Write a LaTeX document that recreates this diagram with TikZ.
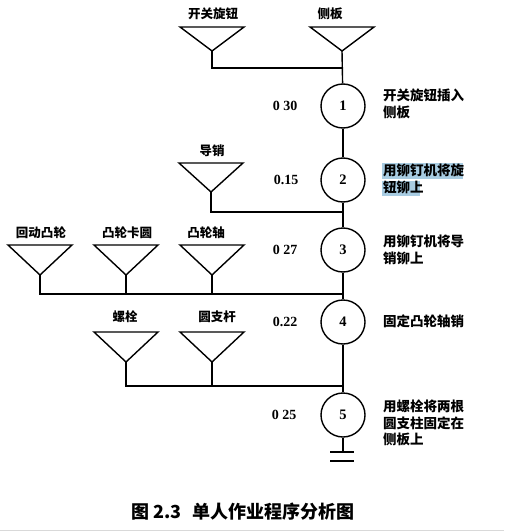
\documentclass[tikz,border=0pt]{standalone}
\usepackage{fontspec}
\setmainfont{Liberation Serif}
\newfontfamily\cjk{Noto Sans CJK SC}
\newfontfamily\numfont{Liberation Serif}
\definecolor{hl}{RGB}{168,204,226}
\begin{document}
\begin{tikzpicture}[x=1pt,y=-1pt,
  ln/.style={line width=1.4pt},
  op/.style={circle, draw, line width=1.4pt, minimum size=44pt, inner sep=0pt,
    font=\numfont\bfseries\fontsize{14.5}{14.5}\selectfont},
  lab/.style={inner sep=0pt, font=\cjk\bfseries\fontsize{12.5}{14}\selectfont},
  desc/.style={anchor=north west, align=left, inner sep=0pt,
    font=\cjk\bfseries\fontsize{13.5}{16.5}\selectfont},
  tm/.style={inner sep=0pt, font=\numfont\bfseries\fontsize{14}{14}\selectfont},
  captext/.style={inner sep=0pt, font=\cjk\bfseries\fontsize{18}{18}\selectfont}]
\useasboundingbox (0,0) rectangle (504,532);
\fill[white] (0,0) rectangle (504,532);
\draw[gray!30, line width=0.8pt] (0,530) -- (504,530);

% funnels (materials)
\foreach \n/\cx/\ty/\ay/\lx/\ly/\t in {
  f1/212/27/51/213/14/开关旋钮,
  f2/342/27/51/330/14/侧板,
  f3/211/163/192/212/151/导销,
  f4/40/245/275/41/233/回动凸轮,
  f5/126/245/275/127/233/凸轮卡圆,
  f6/212/245/275/206/233/凸轮轴,
  f7/126/332/362/125/317/螺栓,
  f8/212/332/362/217/317/圆支杆}{
  \draw[ln, line join=miter] (\cx-32,\ty) -- (\cx+32,\ty) -- (\cx,\ay) -- cycle;
  \coordinate (\n) at (\cx,\ay);
  \node[lab] (\n l) at (\lx,\ly) {\t};
}

% operations
\node[op] (c1) at (343,106) {1};
\node[op] (c2) at (343,180) {2};
\node[op] (c3) at (343,250) {3};
\node[op] (c4) at (343,322) {4};
\node[op] (c5) at (343,415) {5};

% junctions
\coordinate (j1) at (343,68);
\coordinate (j2) at (343,212);
\coordinate (j3) at (343,294);
\coordinate (j4) at (343,386);
\coordinate (gnd) at (343,452);
\coordinate (gnd2) at (343,461);

% connectors
\draw[ln] (f2) -- (c1);
\draw[ln] (f1) |- (j1);
\draw[ln] (c1) -- (c2);
\draw[ln] (c2) -- (c3);
\draw[ln] (c3) -- (c4);
\draw[ln] (c4) -- (c5);
\draw[ln] (c5) -- (gnd);
\draw[ln] (f3) |- (j2);
\draw[ln] (f4) |- (j3);
\draw[ln] (f5) -- (f5 |- j3);
\draw[ln] (f6) -- (f6 |- j3);
\draw[ln] (f7) |- (j4);
\draw[ln] (f8) -- (f8 |- j4);
\draw[ln] ([xshift=-13pt]gnd) -- ([xshift=11pt]gnd);
\draw[ln] ([xshift=-13pt]gnd2) -- ([xshift=11pt]gnd2);

% times
\node[tm] (t1) at (285,106) {0 30};
\node[tm] (t2) at (286,180) {0.15};
\node[tm] (t3) at (285,250) {0 27};
\node[tm] (t4) at (285,322) {0.22};
\node[tm] (t5) at (284,415) {0 25};

% descriptions
\fill[hl] (382,163) rectangle (463,179);
\fill[hl] (382,181) rectangle (420,196);
\node[desc] (d1) at (383,89) {开关旋钮插入\\侧板};
\node[desc] (d2) at (383,164) {用铆钉机将旋\\钮铆上};
\node[desc] (d3) at (383,235) {用铆钉机将导\\销铆上};
\node[desc] (d4) at (383,315) {固定凸轮轴销};
\node[desc] (d5) at (383,400) {用螺栓将两根\\圆支柱固定在\\侧板上};

% caption
\node[captext] (captn) at (243,512) {图 2.3\hspace{0.6em}单人作业程序分析图};
\end{tikzpicture}
\end{document}
